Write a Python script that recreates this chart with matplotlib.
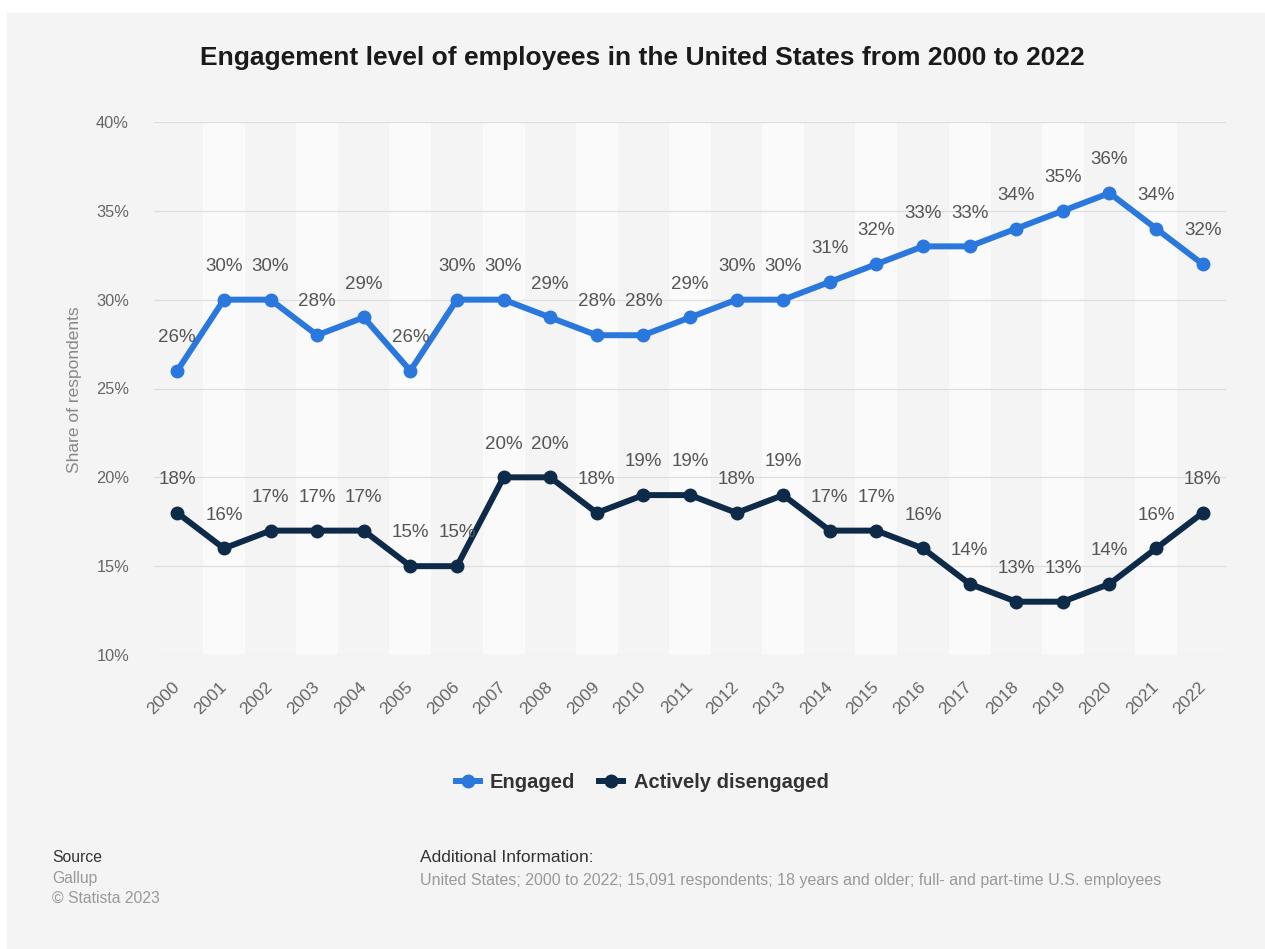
import matplotlib
matplotlib.use("Agg")
import matplotlib.pyplot as plt
from matplotlib.patches import Rectangle
from matplotlib.lines import Line2D
from matplotlib.ticker import FuncFormatter

plt.rcParams["font.family"] = ["Liberation Sans", "DejaVu Sans"]

years = [str(y) for y in range(2000, 2023)]
engaged = [26, 30, 30, 28, 29, 26, 30, 30, 29, 28, 28, 29, 30, 30, 31, 32, 33, 33, 34, 35, 36, 34, 32]
disengaged = [18, 16, 17, 17, 17, 15, 15, 20, 20, 18, 19, 19, 18, 19, 17, 17, 16, 14, 13, 13, 14, 16, 18]
y_ticks = [10, 15, 20, 25, 30, 35, 40]

title = "Engagement level of employees in the United States from 2000 to 2022"
series_names = ["Engaged", "Actively disengaged"]
colors = ["#2a78de", "#0d2a48"]

W, H = 1265, 949
fig = plt.figure(figsize=(W / 100, H / 100), dpi=100, facecolor="white")

# grey card behind everything
fig.patches.append(Rectangle((7 / W, 0), 1 - 7 / W, 1 - 13 / H, transform=fig.transFigure,
                             facecolor="#f4f4f4", edgecolor="none", zorder=-10))

ax = fig.add_axes([154 / W, 1 - 655 / H, (1226 - 154) / W, (655 - 122) / H])
ax.set_facecolor("none")
x = list(range(len(years)))

# alternating light column bands
for i in x:
    if i % 2 == 1:
        ax.axvspan(i - 0.45, i + 0.45, ymin=0, ymax=1, facecolor="#fafafa", edgecolor="none", zorder=0)

for v in y_ticks:
    ax.axhline(v, color="#dedede", lw=0.9, zorder=1)

for vals, c, name in zip([engaged, disengaged], colors, series_names):
    ax.plot(x, vals, color=c, lw=4.3, marker="o", markersize=9, zorder=3, label=name,
            solid_joinstyle="round")
    for xi, v in zip(x, vals):
        ax.annotate(f"{v}%", (xi, v), xytext=(0, 24), textcoords="offset points",
                    ha="center", va="center", fontsize=13.5, color="#555555", zorder=4)

ax.set_xlim(-0.5, len(years) - 0.5)
ax.set_ylim(10, 40)
ax.set_yticks(y_ticks)
ax.yaxis.set_major_formatter(FuncFormatter(lambda v, p: f"{v:.0f}%"))
ax.set_xticks(x)
ax.set_xticklabels(years, rotation=45, ha="right", va="center", rotation_mode="anchor")
ax.tick_params(axis="both", length=0, labelcolor="#666666")
ax.tick_params(axis="y", pad=18, labelsize=11.8)
ax.tick_params(axis="x", pad=21, labelsize=12.5)
for s in ax.spines.values():
    s.set_visible(False)

fig.text(75 / W, 1 - 390 / H, "Share of respondents", rotation=90, ha="center", va="center",
         fontsize=12.5, color="#888888")

fig.text(642 / W, 1 - 58 / H, title, ha="center", va="center", fontsize=19,
         fontweight="bold", color="#1a1a1a")

handles = [Line2D([0], [0], color=c, lw=4.3, marker="o", markersize=9) for c in colors]
fig.legend(handles, series_names, loc="center", bbox_to_anchor=(642 / W, 1 - 783 / H), ncol=2,
           frameon=False, handlelength=1.2, handletextpad=0.5, columnspacing=1.2,
           prop={"size": 14.5, "weight": "bold"}, labelcolor="#333333")

fig.text(52 / W, 1 - 858 / H, "Source", ha="left", va="center", fontsize=11.3, color="#333333")
fig.text(52 / W, 1 - 878 / H, "Gallup", ha="left", va="center", fontsize=11.3, color="#999999")
fig.text(52 / W, 1 - 898 / H, "\u00a9 Statista 2023", ha="left", va="center", fontsize=11.3, color="#999999")
fig.text(420 / W, 1 - 858 / H, "Additional Information:", ha="left", va="center", fontsize=12.5, color="#333333")
fig.text(420 / W, 1 - 880 / H,
         "United States; 2000 to 2022; 15,091 respondents; 18 years and older; full- and part-time U.S. employees",
         ha="left", va="center", fontsize=11.5, color="#999999")

fig.savefig("out.png", dpi=100, facecolor="white")
